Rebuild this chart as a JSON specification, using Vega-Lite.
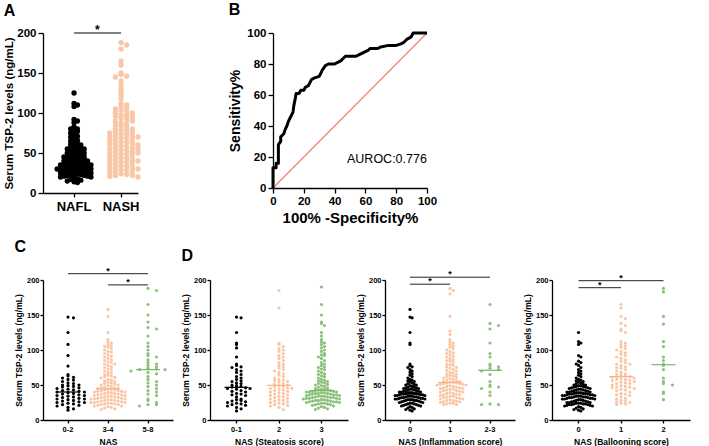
{
"$schema":"https://vega.github.io/schema/vega-lite/v6.json",
"padding":{"left":3,"top":2,"right":2,"bottom":2},
"config":{"font":"Liberation Sans","view":{"stroke":null},
"axis":{"grid":false,"domainColor":"#000","tickColor":"#000","labelColor":"#000","titleColor":"#000","labelFontWeight":"bold","titleFontWeight":"bold","domainWidth":1.3,"tickWidth":1.3,"labelFont":"Liberation Sans","titleFont":"Liberation Sans","labelOverlap":false,"labelFlush":false},
"axisQuantitative":{"labelOverlap":false},
"axisX":{"labelAngle":0},
"title":{"anchor":"start","frame":"bounds","fontWeight":"bold","color":"#000","font":"Liberation Sans"},
"circle":{"opacity":1,"strokeWidth":0},"tick":{"thickness":1.2}},
"datasets":{
"A":[
{"g":"NAFL","v":125},{"g":"NAFL","v":112},{"g":"NAFL","v":110},{"g":"NAFL","v":108},{"g":"NAFL","v":92},{"g":"NAFL","v":90},{"g":"NAFL","v":88},{"g":"NAFL","v":83},{"g":"NAFL","v":80},{"g":"NAFL","v":80},{"g":"NAFL","v":79},{"g":"NAFL","v":77},{"g":"NAFL","v":75},{"g":"NAFL","v":73},{"g":"NAFL","v":71},{"g":"NAFL","v":70},{"g":"NAFL","v":68},{"g":"NAFL","v":66},{"g":"NAFL","v":65},{"g":"NAFL","v":64},{"g":"NAFL","v":62},{"g":"NAFL","v":61},{"g":"NAFL","v":60},{"g":"NAFL","v":59},{"g":"NAFL","v":58},{"g":"NAFL","v":57},{"g":"NAFL","v":56},{"g":"NAFL","v":55},{"g":"NAFL","v":55},{"g":"NAFL","v":54},{"g":"NAFL","v":53},{"g":"NAFL","v":52},{"g":"NAFL","v":51},{"g":"NAFL","v":50},{"g":"NAFL","v":50},{"g":"NAFL","v":49},{"g":"NAFL","v":48},{"g":"NAFL","v":47},{"g":"NAFL","v":47},{"g":"NAFL","v":46},{"g":"NAFL","v":45},{"g":"NAFL","v":45},{"g":"NAFL","v":44},{"g":"NAFL","v":43},{"g":"NAFL","v":43},{"g":"NAFL","v":42},{"g":"NAFL","v":41},{"g":"NAFL","v":41},{"g":"NAFL","v":40},{"g":"NAFL","v":40},{"g":"NAFL","v":39},{"g":"NAFL","v":39},{"g":"NAFL","v":38},{"g":"NAFL","v":38},{"g":"NAFL","v":37},{"g":"NAFL","v":37},{"g":"NAFL","v":36},{"g":"NAFL","v":36},{"g":"NAFL","v":35},{"g":"NAFL","v":35},{"g":"NAFL","v":34},{"g":"NAFL","v":34},{"g":"NAFL","v":33},{"g":"NAFL","v":33},{"g":"NAFL","v":32},{"g":"NAFL","v":32},{"g":"NAFL","v":31},{"g":"NAFL","v":31},{"g":"NAFL","v":30},{"g":"NAFL","v":30},{"g":"NAFL","v":30},{"g":"NAFL","v":29},{"g":"NAFL","v":29},{"g":"NAFL","v":28},{"g":"NAFL","v":28},{"g":"NAFL","v":27},{"g":"NAFL","v":27},{"g":"NAFL","v":26},{"g":"NAFL","v":26},{"g":"NAFL","v":25},{"g":"NAFL","v":25},{"g":"NAFL","v":24},{"g":"NAFL","v":24},{"g":"NAFL","v":23},{"g":"NAFL","v":23},{"g":"NAFL","v":22},{"g":"NAFL","v":22},{"g":"NAFL","v":21},{"g":"NAFL","v":21},{"g":"NAFL","v":20},{"g":"NAFL","v":20},{"g":"NAFL","v":19},{"g":"NAFL","v":18},{"g":"NAFL","v":17},{"g":"NAFL","v":16},{"g":"NAFL","v":15},{"g":"NAFL","v":14},{"g":"NAFL","v":13},
{"g":"NASH","v":188},{"g":"NASH","v":185},{"g":"NASH","v":180},{"g":"NASH","v":165},{"g":"NASH","v":160},{"g":"NASH","v":150},{"g":"NASH","v":148},{"g":"NASH","v":146},{"g":"NASH","v":145},{"g":"NASH","v":140},{"g":"NASH","v":135},{"g":"NASH","v":130},{"g":"NASH","v":125},{"g":"NASH","v":122},{"g":"NASH","v":118},{"g":"NASH","v":112},{"g":"NASH","v":110},{"g":"NASH","v":108},{"g":"NASH","v":106},{"g":"NASH","v":105},{"g":"NASH","v":104},{"g":"NASH","v":102},{"g":"NASH","v":100},{"g":"NASH","v":100},{"g":"NASH","v":98},{"g":"NASH","v":97},{"g":"NASH","v":96},{"g":"NASH","v":95},{"g":"NASH","v":94},{"g":"NASH","v":92},{"g":"NASH","v":90},{"g":"NASH","v":90},{"g":"NASH","v":88},{"g":"NASH","v":86},{"g":"NASH","v":85},{"g":"NASH","v":84},{"g":"NASH","v":82},{"g":"NASH","v":80},{"g":"NASH","v":80},{"g":"NASH","v":79},{"g":"NASH","v":78},{"g":"NASH","v":77},{"g":"NASH","v":76},{"g":"NASH","v":75},{"g":"NASH","v":74},{"g":"NASH","v":73},{"g":"NASH","v":72},{"g":"NASH","v":71},{"g":"NASH","v":70},{"g":"NASH","v":70},{"g":"NASH","v":69},{"g":"NASH","v":68},{"g":"NASH","v":67},{"g":"NASH","v":66},{"g":"NASH","v":65},{"g":"NASH","v":64},{"g":"NASH","v":63},{"g":"NASH","v":62},{"g":"NASH","v":62},{"g":"NASH","v":61},{"g":"NASH","v":60},{"g":"NASH","v":59},{"g":"NASH","v":58},{"g":"NASH","v":57},{"g":"NASH","v":56},{"g":"NASH","v":55},{"g":"NASH","v":55},{"g":"NASH","v":54},{"g":"NASH","v":53},{"g":"NASH","v":52},{"g":"NASH","v":51},{"g":"NASH","v":50},{"g":"NASH","v":50},{"g":"NASH","v":49},{"g":"NASH","v":48},{"g":"NASH","v":47},{"g":"NASH","v":46},{"g":"NASH","v":45},{"g":"NASH","v":44},{"g":"NASH","v":43},{"g":"NASH","v":42},{"g":"NASH","v":41},{"g":"NASH","v":40},{"g":"NASH","v":40},{"g":"NASH","v":39},{"g":"NASH","v":38},{"g":"NASH","v":37},{"g":"NASH","v":36},{"g":"NASH","v":35},{"g":"NASH","v":34},{"g":"NASH","v":33},{"g":"NASH","v":32},{"g":"NASH","v":31},{"g":"NASH","v":30},{"g":"NASH","v":30},{"g":"NASH","v":29},{"g":"NASH","v":28},{"g":"NASH","v":27},{"g":"NASH","v":26},{"g":"NASH","v":25},{"g":"NASH","v":24},{"g":"NASH","v":23},{"g":"NASH","v":22},{"g":"NASH","v":22},{"g":"NASH","v":21},{"g":"NASH","v":20}],
"ROC":[{"fpr":0,"tpr":0},{"fpr":0,"tpr":13},{"fpr":2,"tpr":13},{"fpr":2,"tpr":16},{"fpr":3.5,"tpr":16},{"fpr":3.5,"tpr":28},{"fpr":5,"tpr":30},{"fpr":5,"tpr":33},{"fpr":7,"tpr":35},{"fpr":8,"tpr":38},{"fpr":9,"tpr":40},{"fpr":10,"tpr":43},{"fpr":11,"tpr":45},{"fpr":12,"tpr":47},{"fpr":13,"tpr":49},{"fpr":13.5,"tpr":53},{"fpr":14.5,"tpr":58},{"fpr":15,"tpr":61},{"fpr":17,"tpr":61},{"fpr":18,"tpr":63},{"fpr":20,"tpr":63},{"fpr":21,"tpr":65},{"fpr":23,"tpr":66},{"fpr":24,"tpr":68},{"fpr":25,"tpr":70},{"fpr":27,"tpr":71},{"fpr":30,"tpr":72},{"fpr":31,"tpr":74},{"fpr":32,"tpr":76},{"fpr":34,"tpr":79},{"fpr":36,"tpr":80},{"fpr":40,"tpr":80},{"fpr":42,"tpr":81},{"fpr":44,"tpr":82},{"fpr":46,"tpr":84},{"fpr":47,"tpr":85},{"fpr":54,"tpr":85},{"fpr":56,"tpr":86},{"fpr":58,"tpr":87},{"fpr":60,"tpr":88},{"fpr":62,"tpr":89},{"fpr":63,"tpr":90},{"fpr":68,"tpr":90},{"fpr":70,"tpr":91},{"fpr":75,"tpr":92},{"fpr":80,"tpr":92},{"fpr":83,"tpr":93},{"fpr":85,"tpr":94},{"fpr":87,"tpr":96},{"fpr":89,"tpr":97},{"fpr":90,"tpr":98},{"fpr":91,"tpr":100},{"fpr":100,"tpr":100}],
"C":[
{"g":"0-2","v":147},{"g":"0-2","v":146},{"g":"0-2","v":125},{"g":"0-2","v":108},{"g":"0-2","v":92},{"g":"0-2","v":77},{"g":"0-2","v":65},{"g":"0-2","v":63},{"g":"0-2","v":61},{"g":"0-2","v":60},{"g":"0-2","v":58},{"g":"0-2","v":57},{"g":"0-2","v":55},{"g":"0-2","v":53},{"g":"0-2","v":52},{"g":"0-2","v":50},{"g":"0-2","v":50},{"g":"0-2","v":49},{"g":"0-2","v":48},{"g":"0-2","v":47},{"g":"0-2","v":46},{"g":"0-2","v":45},{"g":"0-2","v":44},{"g":"0-2","v":43},{"g":"0-2","v":42},{"g":"0-2","v":41},{"g":"0-2","v":40},{"g":"0-2","v":40},{"g":"0-2","v":39},{"g":"0-2","v":38},{"g":"0-2","v":37},{"g":"0-2","v":36},{"g":"0-2","v":35},{"g":"0-2","v":35},{"g":"0-2","v":34},{"g":"0-2","v":33},{"g":"0-2","v":32},{"g":"0-2","v":31},{"g":"0-2","v":30},{"g":"0-2","v":30},{"g":"0-2","v":29},{"g":"0-2","v":28},{"g":"0-2","v":27},{"g":"0-2","v":26},{"g":"0-2","v":25},{"g":"0-2","v":25},{"g":"0-2","v":24},{"g":"0-2","v":23},{"g":"0-2","v":22},{"g":"0-2","v":21},{"g":"0-2","v":20},{"g":"0-2","v":18},{"g":"0-2","v":16},{"g":"0-2","v":14},
{"g":"3-4","v":158},{"g":"3-4","v":148},{"g":"3-4","v":125},{"g":"3-4","v":115},{"g":"3-4","v":112},{"g":"3-4","v":110},{"g":"3-4","v":108},{"g":"3-4","v":106},{"g":"3-4","v":105},{"g":"3-4","v":104},{"g":"3-4","v":102},{"g":"3-4","v":100},{"g":"3-4","v":98},{"g":"3-4","v":97},{"g":"3-4","v":95},{"g":"3-4","v":93},{"g":"3-4","v":91},{"g":"3-4","v":90},{"g":"3-4","v":88},{"g":"3-4","v":86},{"g":"3-4","v":85},{"g":"3-4","v":83},{"g":"3-4","v":82},{"g":"3-4","v":80},{"g":"3-4","v":80},{"g":"3-4","v":78},{"g":"3-4","v":76},{"g":"3-4","v":75},{"g":"3-4","v":73},{"g":"3-4","v":72},{"g":"3-4","v":70},{"g":"3-4","v":68},{"g":"3-4","v":67},{"g":"3-4","v":65},{"g":"3-4","v":64},{"g":"3-4","v":63},{"g":"3-4","v":62},{"g":"3-4","v":61},{"g":"3-4","v":60},{"g":"3-4","v":58},{"g":"3-4","v":57},{"g":"3-4","v":56},{"g":"3-4","v":55},{"g":"3-4","v":54},{"g":"3-4","v":53},{"g":"3-4","v":52},{"g":"3-4","v":51},{"g":"3-4","v":50},{"g":"3-4","v":50},{"g":"3-4","v":49},{"g":"3-4","v":48},{"g":"3-4","v":47},{"g":"3-4","v":46},{"g":"3-4","v":46},{"g":"3-4","v":45},{"g":"3-4","v":45},{"g":"3-4","v":44},{"g":"3-4","v":44},{"g":"3-4","v":43},{"g":"3-4","v":43},{"g":"3-4","v":42},{"g":"3-4","v":42},{"g":"3-4","v":41},{"g":"3-4","v":41},{"g":"3-4","v":40},{"g":"3-4","v":40},{"g":"3-4","v":39},{"g":"3-4","v":39},{"g":"3-4","v":38},{"g":"3-4","v":38},{"g":"3-4","v":37},{"g":"3-4","v":37},{"g":"3-4","v":36},{"g":"3-4","v":36},{"g":"3-4","v":35},{"g":"3-4","v":35},{"g":"3-4","v":34},{"g":"3-4","v":34},{"g":"3-4","v":33},{"g":"3-4","v":33},{"g":"3-4","v":32},{"g":"3-4","v":32},{"g":"3-4","v":31},{"g":"3-4","v":31},{"g":"3-4","v":30},{"g":"3-4","v":30},{"g":"3-4","v":30},{"g":"3-4","v":29},{"g":"3-4","v":29},{"g":"3-4","v":28},{"g":"3-4","v":28},{"g":"3-4","v":27},{"g":"3-4","v":27},{"g":"3-4","v":26},{"g":"3-4","v":26},{"g":"3-4","v":25},{"g":"3-4","v":25},{"g":"3-4","v":25},{"g":"3-4","v":24},{"g":"3-4","v":24},{"g":"3-4","v":23},{"g":"3-4","v":23},{"g":"3-4","v":22},{"g":"3-4","v":22},{"g":"3-4","v":21},{"g":"3-4","v":20},{"g":"3-4","v":20},{"g":"3-4","v":19},{"g":"3-4","v":18},{"g":"3-4","v":17},{"g":"3-4","v":16},{"g":"3-4","v":15},
{"g":"5-8","v":188},{"g":"5-8","v":185},{"g":"5-8","v":165},{"g":"5-8","v":150},{"g":"5-8","v":140},{"g":"5-8","v":132},{"g":"5-8","v":130},{"g":"5-8","v":120},{"g":"5-8","v":110},{"g":"5-8","v":105},{"g":"5-8","v":100},{"g":"5-8","v":95},{"g":"5-8","v":92},{"g":"5-8","v":90},{"g":"5-8","v":86},{"g":"5-8","v":82},{"g":"5-8","v":80},{"g":"5-8","v":78},{"g":"5-8","v":76},{"g":"5-8","v":74},{"g":"5-8","v":73},{"g":"5-8","v":72},{"g":"5-8","v":72},{"g":"5-8","v":70},{"g":"5-8","v":68},{"g":"5-8","v":66},{"g":"5-8","v":62},{"g":"5-8","v":58},{"g":"5-8","v":55},{"g":"5-8","v":53},{"g":"5-8","v":50},{"g":"5-8","v":48},{"g":"5-8","v":45},{"g":"5-8","v":42},{"g":"5-8","v":40},{"g":"5-8","v":37},{"g":"5-8","v":35},{"g":"5-8","v":30},{"g":"5-8","v":28},{"g":"5-8","v":25},{"g":"5-8","v":22},{"g":"5-8","v":22},{"g":"5-8","v":20}],
"D1":[
{"g":"0-1","v":147},{"g":"0-1","v":146},{"g":"0-1","v":125},{"g":"0-1","v":110},{"g":"0-1","v":108},{"g":"0-1","v":103},{"g":"0-1","v":90},{"g":"0-1","v":80},{"g":"0-1","v":78},{"g":"0-1","v":76},{"g":"0-1","v":75},{"g":"0-1","v":72},{"g":"0-1","v":70},{"g":"0-1","v":68},{"g":"0-1","v":65},{"g":"0-1","v":62},{"g":"0-1","v":60},{"g":"0-1","v":58},{"g":"0-1","v":56},{"g":"0-1","v":55},{"g":"0-1","v":53},{"g":"0-1","v":52},{"g":"0-1","v":50},{"g":"0-1","v":49},{"g":"0-1","v":48},{"g":"0-1","v":47},{"g":"0-1","v":46},{"g":"0-1","v":45},{"g":"0-1","v":45},{"g":"0-1","v":44},{"g":"0-1","v":42},{"g":"0-1","v":41},{"g":"0-1","v":40},{"g":"0-1","v":38},{"g":"0-1","v":37},{"g":"0-1","v":36},{"g":"0-1","v":35},{"g":"0-1","v":33},{"g":"0-1","v":30},{"g":"0-1","v":29},{"g":"0-1","v":28},{"g":"0-1","v":27},{"g":"0-1","v":26},{"g":"0-1","v":25},{"g":"0-1","v":24},{"g":"0-1","v":23},{"g":"0-1","v":22},{"g":"0-1","v":21},{"g":"0-1","v":20},{"g":"0-1","v":18},{"g":"0-1","v":16},{"g":"0-1","v":13},
{"g":"2","v":185},{"g":"2","v":160},{"g":"2","v":110},{"g":"2","v":108},{"g":"2","v":105},{"g":"2","v":102},{"g":"2","v":100},{"g":"2","v":98},{"g":"2","v":95},{"g":"2","v":92},{"g":"2","v":90},{"g":"2","v":88},{"g":"2","v":85},{"g":"2","v":82},{"g":"2","v":80},{"g":"2","v":78},{"g":"2","v":76},{"g":"2","v":74},{"g":"2","v":72},{"g":"2","v":70},{"g":"2","v":68},{"g":"2","v":66},{"g":"2","v":64},{"g":"2","v":62},{"g":"2","v":60},{"g":"2","v":58},{"g":"2","v":57},{"g":"2","v":56},{"g":"2","v":55},{"g":"2","v":54},{"g":"2","v":52},{"g":"2","v":51},{"g":"2","v":50},{"g":"2","v":49},{"g":"2","v":48},{"g":"2","v":47},{"g":"2","v":46},{"g":"2","v":45},{"g":"2","v":45},{"g":"2","v":44},{"g":"2","v":43},{"g":"2","v":42},{"g":"2","v":41},{"g":"2","v":40},{"g":"2","v":39},{"g":"2","v":38},{"g":"2","v":37},{"g":"2","v":36},{"g":"2","v":35},{"g":"2","v":34},{"g":"2","v":33},{"g":"2","v":32},{"g":"2","v":31},{"g":"2","v":30},{"g":"2","v":29},{"g":"2","v":28},{"g":"2","v":27},{"g":"2","v":26},{"g":"2","v":25},{"g":"2","v":24},{"g":"2","v":23},{"g":"2","v":22},{"g":"2","v":21},{"g":"2","v":20},{"g":"2","v":18},{"g":"2","v":15},
{"g":"3","v":190},{"g":"3","v":165},{"g":"3","v":150},{"g":"3","v":140},{"g":"3","v":138},{"g":"3","v":135},{"g":"3","v":125},{"g":"3","v":120},{"g":"3","v":115},{"g":"3","v":112},{"g":"3","v":110},{"g":"3","v":108},{"g":"3","v":105},{"g":"3","v":103},{"g":"3","v":100},{"g":"3","v":98},{"g":"3","v":95},{"g":"3","v":93},{"g":"3","v":92},{"g":"3","v":90},{"g":"3","v":88},{"g":"3","v":85},{"g":"3","v":82},{"g":"3","v":80},{"g":"3","v":78},{"g":"3","v":76},{"g":"3","v":75},{"g":"3","v":73},{"g":"3","v":72},{"g":"3","v":70},{"g":"3","v":68},{"g":"3","v":66},{"g":"3","v":65},{"g":"3","v":63},{"g":"3","v":62},{"g":"3","v":60},{"g":"3","v":58},{"g":"3","v":57},{"g":"3","v":56},{"g":"3","v":55},{"g":"3","v":54},{"g":"3","v":53},{"g":"3","v":52},{"g":"3","v":51},{"g":"3","v":50},{"g":"3","v":49},{"g":"3","v":48},{"g":"3","v":47},{"g":"3","v":46},{"g":"3","v":45},{"g":"3","v":44},{"g":"3","v":44},{"g":"3","v":43},{"g":"3","v":43},{"g":"3","v":42},{"g":"3","v":42},{"g":"3","v":41},{"g":"3","v":41},{"g":"3","v":40},{"g":"3","v":40},{"g":"3","v":40},{"g":"3","v":39},{"g":"3","v":39},{"g":"3","v":38},{"g":"3","v":38},{"g":"3","v":38},{"g":"3","v":37},{"g":"3","v":37},{"g":"3","v":36},{"g":"3","v":36},{"g":"3","v":36},{"g":"3","v":35},{"g":"3","v":35},{"g":"3","v":34},{"g":"3","v":34},{"g":"3","v":34},{"g":"3","v":33},{"g":"3","v":33},{"g":"3","v":32},{"g":"3","v":32},{"g":"3","v":32},{"g":"3","v":31},{"g":"3","v":31},{"g":"3","v":31},{"g":"3","v":30},{"g":"3","v":30},{"g":"3","v":29},{"g":"3","v":29},{"g":"3","v":28},{"g":"3","v":28},{"g":"3","v":28},{"g":"3","v":27},{"g":"3","v":27},{"g":"3","v":26},{"g":"3","v":26},{"g":"3","v":26},{"g":"3","v":25},{"g":"3","v":25},{"g":"3","v":24},{"g":"3","v":24},{"g":"3","v":23},{"g":"3","v":23},{"g":"3","v":22},{"g":"3","v":22},{"g":"3","v":21},{"g":"3","v":20},{"g":"3","v":19},{"g":"3","v":18},{"g":"3","v":17},{"g":"3","v":16},{"g":"3","v":15}],
"D2":[
{"g":"0","v":158},{"g":"0","v":147},{"g":"0","v":146},{"g":"0","v":125},{"g":"0","v":110},{"g":"0","v":108},{"g":"0","v":80},{"g":"0","v":78},{"g":"0","v":76},{"g":"0","v":75},{"g":"0","v":72},{"g":"0","v":70},{"g":"0","v":68},{"g":"0","v":66},{"g":"0","v":64},{"g":"0","v":62},{"g":"0","v":60},{"g":"0","v":58},{"g":"0","v":57},{"g":"0","v":56},{"g":"0","v":55},{"g":"0","v":54},{"g":"0","v":53},{"g":"0","v":52},{"g":"0","v":51},{"g":"0","v":50},{"g":"0","v":50},{"g":"0","v":49},{"g":"0","v":48},{"g":"0","v":47},{"g":"0","v":47},{"g":"0","v":46},{"g":"0","v":46},{"g":"0","v":45},{"g":"0","v":45},{"g":"0","v":44},{"g":"0","v":44},{"g":"0","v":43},{"g":"0","v":43},{"g":"0","v":42},{"g":"0","v":42},{"g":"0","v":41},{"g":"0","v":41},{"g":"0","v":40},{"g":"0","v":40},{"g":"0","v":40},{"g":"0","v":39},{"g":"0","v":39},{"g":"0","v":39},{"g":"0","v":38},{"g":"0","v":38},{"g":"0","v":38},{"g":"0","v":37},{"g":"0","v":37},{"g":"0","v":37},{"g":"0","v":36},{"g":"0","v":36},{"g":"0","v":36},{"g":"0","v":35},{"g":"0","v":35},{"g":"0","v":35},{"g":"0","v":34},{"g":"0","v":34},{"g":"0","v":34},{"g":"0","v":33},{"g":"0","v":33},{"g":"0","v":33},{"g":"0","v":32},{"g":"0","v":32},{"g":"0","v":32},{"g":"0","v":31},{"g":"0","v":31},{"g":"0","v":31},{"g":"0","v":30},{"g":"0","v":30},{"g":"0","v":30},{"g":"0","v":29},{"g":"0","v":29},{"g":"0","v":29},{"g":"0","v":28},{"g":"0","v":28},{"g":"0","v":28},{"g":"0","v":27},{"g":"0","v":27},{"g":"0","v":26},{"g":"0","v":26},{"g":"0","v":25},{"g":"0","v":25},{"g":"0","v":24},{"g":"0","v":24},{"g":"0","v":23},{"g":"0","v":23},{"g":"0","v":22},{"g":"0","v":22},{"g":"0","v":21},{"g":"0","v":21},{"g":"0","v":20},{"g":"0","v":20},{"g":"0","v":19},{"g":"0","v":18},{"g":"0","v":17},{"g":"0","v":16},{"g":"0","v":15},{"g":"0","v":14},{"g":"0","v":13},
{"g":"1","v":188},{"g":"1","v":185},{"g":"1","v":180},{"g":"1","v":148},{"g":"1","v":127},{"g":"1","v":122},{"g":"1","v":115},{"g":"1","v":112},{"g":"1","v":110},{"g":"1","v":108},{"g":"1","v":106},{"g":"1","v":104},{"g":"1","v":102},{"g":"1","v":100},{"g":"1","v":98},{"g":"1","v":96},{"g":"1","v":95},{"g":"1","v":93},{"g":"1","v":91},{"g":"1","v":90},{"g":"1","v":88},{"g":"1","v":86},{"g":"1","v":85},{"g":"1","v":84},{"g":"1","v":82},{"g":"1","v":80},{"g":"1","v":79},{"g":"1","v":78},{"g":"1","v":76},{"g":"1","v":75},{"g":"1","v":74},{"g":"1","v":72},{"g":"1","v":71},{"g":"1","v":70},{"g":"1","v":68},{"g":"1","v":67},{"g":"1","v":66},{"g":"1","v":65},{"g":"1","v":64},{"g":"1","v":63},{"g":"1","v":62},{"g":"1","v":61},{"g":"1","v":60},{"g":"1","v":59},{"g":"1","v":58},{"g":"1","v":57},{"g":"1","v":56},{"g":"1","v":55},{"g":"1","v":55},{"g":"1","v":54},{"g":"1","v":54},{"g":"1","v":53},{"g":"1","v":53},{"g":"1","v":52},{"g":"1","v":52},{"g":"1","v":51},{"g":"1","v":51},{"g":"1","v":50},{"g":"1","v":50},{"g":"1","v":49},{"g":"1","v":48},{"g":"1","v":48},{"g":"1","v":47},{"g":"1","v":46},{"g":"1","v":46},{"g":"1","v":45},{"g":"1","v":45},{"g":"1","v":44},{"g":"1","v":44},{"g":"1","v":43},{"g":"1","v":42},{"g":"1","v":42},{"g":"1","v":41},{"g":"1","v":40},{"g":"1","v":40},{"g":"1","v":39},{"g":"1","v":38},{"g":"1","v":38},{"g":"1","v":37},{"g":"1","v":36},{"g":"1","v":36},{"g":"1","v":35},{"g":"1","v":34},{"g":"1","v":34},{"g":"1","v":33},{"g":"1","v":32},{"g":"1","v":32},{"g":"1","v":31},{"g":"1","v":30},{"g":"1","v":30},{"g":"1","v":29},{"g":"1","v":28},{"g":"1","v":28},{"g":"1","v":27},{"g":"1","v":26},{"g":"1","v":26},{"g":"1","v":25},{"g":"1","v":24},{"g":"1","v":24},{"g":"1","v":23},{"g":"1","v":22},{"g":"1","v":22},
{"g":"2-3","v":165},{"g":"2-3","v":138},{"g":"2-3","v":135},{"g":"2-3","v":130},{"g":"2-3","v":110},{"g":"2-3","v":95},{"g":"2-3","v":90},{"g":"2-3","v":80},{"g":"2-3","v":78},{"g":"2-3","v":76},{"g":"2-3","v":74},{"g":"2-3","v":72},{"g":"2-3","v":70},{"g":"2-3","v":65},{"g":"2-3","v":55},{"g":"2-3","v":50},{"g":"2-3","v":48},{"g":"2-3","v":47},{"g":"2-3","v":45},{"g":"2-3","v":40},{"g":"2-3","v":35},{"g":"2-3","v":23},{"g":"2-3","v":22},{"g":"2-3","v":22}],
"D3":[
{"g":"0","v":125},{"g":"0","v":112},{"g":"0","v":110},{"g":"0","v":108},{"g":"0","v":92},{"g":"0","v":90},{"g":"0","v":84},{"g":"0","v":82},{"g":"0","v":80},{"g":"0","v":78},{"g":"0","v":75},{"g":"0","v":72},{"g":"0","v":70},{"g":"0","v":68},{"g":"0","v":66},{"g":"0","v":64},{"g":"0","v":62},{"g":"0","v":60},{"g":"0","v":58},{"g":"0","v":57},{"g":"0","v":56},{"g":"0","v":55},{"g":"0","v":54},{"g":"0","v":53},{"g":"0","v":52},{"g":"0","v":51},{"g":"0","v":50},{"g":"0","v":50},{"g":"0","v":49},{"g":"0","v":49},{"g":"0","v":48},{"g":"0","v":48},{"g":"0","v":47},{"g":"0","v":47},{"g":"0","v":46},{"g":"0","v":46},{"g":"0","v":45},{"g":"0","v":45},{"g":"0","v":44},{"g":"0","v":44},{"g":"0","v":43},{"g":"0","v":43},{"g":"0","v":42},{"g":"0","v":42},{"g":"0","v":41},{"g":"0","v":41},{"g":"0","v":40},{"g":"0","v":40},{"g":"0","v":40},{"g":"0","v":39},{"g":"0","v":39},{"g":"0","v":39},{"g":"0","v":38},{"g":"0","v":38},{"g":"0","v":38},{"g":"0","v":37},{"g":"0","v":37},{"g":"0","v":37},{"g":"0","v":36},{"g":"0","v":36},{"g":"0","v":36},{"g":"0","v":35},{"g":"0","v":35},{"g":"0","v":35},{"g":"0","v":34},{"g":"0","v":34},{"g":"0","v":34},{"g":"0","v":33},{"g":"0","v":33},{"g":"0","v":33},{"g":"0","v":32},{"g":"0","v":32},{"g":"0","v":32},{"g":"0","v":31},{"g":"0","v":31},{"g":"0","v":31},{"g":"0","v":30},{"g":"0","v":30},{"g":"0","v":30},{"g":"0","v":29},{"g":"0","v":29},{"g":"0","v":28},{"g":"0","v":28},{"g":"0","v":27},{"g":"0","v":27},{"g":"0","v":26},{"g":"0","v":26},{"g":"0","v":25},{"g":"0","v":25},{"g":"0","v":25},{"g":"0","v":24},{"g":"0","v":24},{"g":"0","v":24},{"g":"0","v":23},{"g":"0","v":23},{"g":"0","v":23},{"g":"0","v":22},{"g":"0","v":22},{"g":"0","v":22},{"g":"0","v":21},{"g":"0","v":21},{"g":"0","v":20},{"g":"0","v":20},{"g":"0","v":19},{"g":"0","v":18},{"g":"0","v":17},{"g":"0","v":16},{"g":"0","v":15},{"g":"0","v":14},{"g":"0","v":13},
{"g":"1","v":165},{"g":"1","v":160},{"g":"1","v":148},{"g":"1","v":145},{"g":"1","v":138},{"g":"1","v":135},{"g":"1","v":130},{"g":"1","v":128},{"g":"1","v":125},{"g":"1","v":112},{"g":"1","v":110},{"g":"1","v":108},{"g":"1","v":106},{"g":"1","v":104},{"g":"1","v":102},{"g":"1","v":100},{"g":"1","v":98},{"g":"1","v":96},{"g":"1","v":94},{"g":"1","v":92},{"g":"1","v":90},{"g":"1","v":88},{"g":"1","v":86},{"g":"1","v":84},{"g":"1","v":82},{"g":"1","v":80},{"g":"1","v":80},{"g":"1","v":78},{"g":"1","v":76},{"g":"1","v":75},{"g":"1","v":74},{"g":"1","v":72},{"g":"1","v":70},{"g":"1","v":68},{"g":"1","v":66},{"g":"1","v":65},{"g":"1","v":64},{"g":"1","v":63},{"g":"1","v":62},{"g":"1","v":62},{"g":"1","v":61},{"g":"1","v":60},{"g":"1","v":59},{"g":"1","v":58},{"g":"1","v":58},{"g":"1","v":57},{"g":"1","v":56},{"g":"1","v":55},{"g":"1","v":54},{"g":"1","v":53},{"g":"1","v":52},{"g":"1","v":52},{"g":"1","v":50},{"g":"1","v":49},{"g":"1","v":48},{"g":"1","v":47},{"g":"1","v":47},{"g":"1","v":46},{"g":"1","v":45},{"g":"1","v":44},{"g":"1","v":43},{"g":"1","v":42},{"g":"1","v":40},{"g":"1","v":38},{"g":"1","v":37},{"g":"1","v":36},{"g":"1","v":35},{"g":"1","v":33},{"g":"1","v":31},{"g":"1","v":30},{"g":"1","v":28},{"g":"1","v":27},{"g":"1","v":26},{"g":"1","v":25},{"g":"1","v":24},{"g":"1","v":23},{"g":"1","v":22},
{"g":"2","v":188},{"g":"2","v":183},{"g":"2","v":148},{"g":"2","v":137},{"g":"2","v":112},{"g":"2","v":105},{"g":"2","v":90},{"g":"2","v":85},{"g":"2","v":80},{"g":"2","v":78},{"g":"2","v":72},{"g":"2","v":60},{"g":"2","v":55},{"g":"2","v":52},{"g":"2","v":50},{"g":"2","v":40},{"g":"2","v":38},{"g":"2","v":29}]
},
"spacing":12,
"vconcat":[
{"spacing":87,"hconcat":[
{"width":95,"height":160,"title":{"text":"A","fontSize":16,"offset":5},"data":{"name":"A"},
"layer":[
{"encoding":{"x":{"field":"g","type":"nominal","scale":{"domain":["NAFL","NASH"],"paddingInner":0.28,"paddingOuter":0.15,"align":1},"axis":{"title":null,"labelFontSize":13,"tickSize":4,"labelPadding":3}},
"y":{"field":"v","type":"quantitative","scale":{"domain":[0,200],"nice":false},"axis":{"tickCount":5,"title":"Serum TSP-2 levels (ng/mL)","labelFontSize":11.5,"titleFontSize":11.5,"tickSize":5,"titlePadding":2,"labelOverlap":false}}},
"layer":[
{"transform":[{"filter":{"field":"g","equal":"NAFL"}},{"bin":{"step":5,"extent":[0,210],"nice":false},"field":"v","as":"b"},{"window":[{"op":"row_number","as":"r"}],"groupby":["b"]}],
"mark":{"type":"circle","size":28,"color":"#000000"},
"encoding":{"xOffset":{"field":"r","type":"ordinal","scale":{"domain":[11,9,7,5,3,1,2,4,6,8,10],"paddingInner":0,"paddingOuter":0}}}},
{"transform":[{"filter":{"field":"g","equal":"NASH"}},{"bin":{"step":5,"extent":[0,210],"nice":false},"field":"v","as":"b"},{"window":[{"op":"row_number","as":"r"}],"groupby":["b"]}],
"mark":{"type":"circle","size":28,"color":"#F9C6A6"},
"encoding":{"xOffset":{"field":"r","type":"ordinal","scale":{"domain":[7,5,3,1,2,4,6],"paddingInner":0,"paddingOuter":0}}}}
],
"resolve":{"scale":{"xOffset":"independent"}}},
{"data":{"values":[{}]},"mark":{"type":"rule","color":"#000","strokeWidth":1.2},"encoding":{"x":{"datum":"NAFL","bandPosition":0.5},"x2":{"datum":"NASH","bandPosition":0.5},"y":{"datum":200}}},
{"data":{"values":[{}]},"mark":{"type":"text","text":"*","fontSize":12,"fontWeight":"bold","baseline":"alphabetic"},"encoding":{"x":{"datum":"NAFL","bandPosition":1.19},"y":{"datum":199}}}
]},
{"width":154,"height":155,"title":{"text":"B","fontSize":16,"offset":9},"data":{"name":"ROC"},
"layer":[
{"data":{"values":[{}]},"mark":{"type":"rule","color":"#F0836A","strokeWidth":1.2},"encoding":{"x":{"datum":0},"x2":{"datum":100},"y":{"datum":0},"y2":{"datum":100}}},
{"mark":{"type":"line","color":"#000","strokeWidth":3,"strokeJoin":"round"},
"encoding":{"x":{"field":"fpr","type":"quantitative","scale":{"domain":[0,100],"nice":false},"axis":{"tickCount":6,"title":"100% -Specificity%","titleFontSize":15,"labelFontSize":11.5,"tickSize":5,"labelOverlap":false}},
"y":{"field":"tpr","type":"quantitative","scale":{"domain":[0,100],"nice":false},"axis":{"tickCount":6,"title":"Sensitivity%","titleFontSize":14,"labelFontSize":11.5,"tickSize":5,"labelOverlap":false}},
"order":[{"field":"fpr"},{"field":"tpr"}]}},
{"data":{"values":[{}]},"mark":{"type":"text","text":"AUROC:0.776","fontSize":12.5},"encoding":{"x":{"datum":74},"y":{"datum":19}}}
]}
]},
{"spacing":8,"hconcat":[
{"width":130,"height":140,"title":{"text":"C","fontSize":16,"offset":12},"data":{"name":"C"},
"layer":[
{"encoding":{"x":{"field":"g","type":"nominal","scale":{"domain":["0-2","3-4","5-8"],"paddingInner":0.15,"paddingOuter":0.2},"axis":{"title":"NAS","labelFontSize":7.5,"titleFontSize":8.5,"tickSize":3,"titlePadding":5}},
"y":{"field":"v","type":"quantitative","scale":{"domain":[0,200],"nice":false},"axis":{"tickCount":5,"title":"Serum TSP-2 levels (ng/mL)","labelFontSize":7.5,"titleFontSize":8.5,"tickSize":3,"labelPadding":1,"titlePadding":3,"labelOverlap":false}}},
"layer":[
{"transform":[{"filter":{"field":"g","equal":"0-2"}}],"layer":[
{"transform":[{"bin":{"step":5,"extent":[0,210],"nice":false},"field":"v","as":"b"},{"window":[{"op":"row_number","as":"r"}],"groupby":["b"]}],"mark":{"type":"circle","size":10,"color":"#000000"},"encoding":{"xOffset":{"field":"r","type":"ordinal","scale":{"domain":[7,5,3,1,2,4,6],"paddingInner":0,"paddingOuter":0.1}}}},
{"mark":{"type":"tick","color":"#000000","size":24},"encoding":{"y":{"aggregate":"median","field":"v","type":"quantitative","title":"Serum TSP-2 levels (ng/mL)","axis":{"tickCount":5,"labelOverlap":false}}}}]},
{"transform":[{"filter":{"field":"g","equal":"3-4"}}],"layer":[
{"transform":[{"bin":{"step":5,"extent":[0,210],"nice":false},"field":"v","as":"b"},{"window":[{"op":"row_number","as":"r"}],"groupby":["b"]}],"mark":{"type":"circle","size":10,"color":"#F9C6A6"},"encoding":{"xOffset":{"field":"r","type":"ordinal","scale":{"domain":[11,9,7,5,3,1,2,4,6,8,10],"paddingInner":0,"paddingOuter":0}}}},
{"mark":{"type":"tick","color":"#F6B48E","size":24},"encoding":{"y":{"aggregate":"median","field":"v","type":"quantitative","title":"Serum TSP-2 levels (ng/mL)","axis":{"tickCount":5,"labelOverlap":false}}}}]},
{"transform":[{"filter":{"field":"g","equal":"5-8"}}],"layer":[
{"transform":[{"bin":{"step":5,"extent":[0,210],"nice":false},"field":"v","as":"b"},{"window":[{"op":"row_number","as":"r"}],"groupby":["b"]}],"mark":{"type":"circle","size":10,"color":"#8CC17A"},"encoding":{"xOffset":{"field":"r","type":"ordinal","scale":{"domain":[5,3,1,2,4],"paddingInner":0,"paddingOuter":0}}}},
{"mark":{"type":"tick","color":"#7DB86A","size":24},"encoding":{"y":{"aggregate":"median","field":"v","type":"quantitative","title":"Serum TSP-2 levels (ng/mL)","axis":{"tickCount":5,"labelOverlap":false}}}}]}
],
"resolve":{"scale":{"xOffset":"independent"}}},
{"data":{"values":[{}]},"mark":{"type":"rule","color":"#222","strokeWidth":1},"encoding":{"x":{"datum":"0-2","bandPosition":0.5},"x2":{"datum":"5-8","bandPosition":0.5},"y":{"datum":209}}},
{"data":{"values":[{}]},"mark":{"type":"text","text":"*","fontSize":9,"fontWeight":"bold","baseline":"alphabetic"},"encoding":{"x":{"datum":"3-4","bandPosition":0.5},"y":{"datum":209}}},
{"data":{"values":[{}]},"mark":{"type":"rule","color":"#222","strokeWidth":1},"encoding":{"x":{"datum":"3-4","bandPosition":0.5},"x2":{"datum":"5-8","bandPosition":0.5},"y":{"datum":193}}},
{"data":{"values":[{}]},"mark":{"type":"text","text":"*","fontSize":9,"fontWeight":"bold","baseline":"alphabetic"},"encoding":{"x":{"datum":"3-4","bandPosition":1.09},"y":{"datum":193}}}
]},
{"width":138,"height":140,"title":{"text":"D","fontSize":16,"offset":12},"data":{"name":"D1"},
"encoding":{"x":{"field":"g","type":"nominal","scale":{"domain":["0-1","2","3"],"paddingInner":0.15,"paddingOuter":0.2},"axis":{"title":"NAS (Steatosis score)","labelFontSize":7.5,"titleFontSize":8.5,"tickSize":3,"titlePadding":5}},
"y":{"field":"v","type":"quantitative","scale":{"domain":[0,200],"nice":false},"axis":{"tickCount":5,"title":"Serum TSP-2 levels (ng/mL)","labelFontSize":7.5,"titleFontSize":8.5,"tickSize":3,"labelPadding":1,"titlePadding":3,"labelOverlap":false}}},
"layer":[
{"transform":[{"filter":{"field":"g","equal":"0-1"}}],"layer":[
{"transform":[{"bin":{"step":5,"extent":[0,210],"nice":false},"field":"v","as":"b"},{"window":[{"op":"row_number","as":"r"}],"groupby":["b"]}],"mark":{"type":"circle","size":10,"color":"#000000"},"encoding":{"xOffset":{"field":"r","type":"ordinal","scale":{"domain":[7,5,3,1,2,4,6],"paddingInner":0,"paddingOuter":1}}}},
{"mark":{"type":"tick","color":"#000000","size":24},"encoding":{"y":{"aggregate":"median","field":"v","type":"quantitative","title":"Serum TSP-2 levels (ng/mL)","axis":{"tickCount":5,"labelOverlap":false}}}}]},
{"transform":[{"filter":{"field":"g","equal":"2"}}],"layer":[
{"transform":[{"bin":{"step":5,"extent":[0,210],"nice":false},"field":"v","as":"b"},{"window":[{"op":"row_number","as":"r"}],"groupby":["b"]}],"mark":{"type":"circle","size":10,"color":"#F9C6A6"},"encoding":{"xOffset":{"field":"r","type":"ordinal","scale":{"domain":[9,7,5,3,1,2,4,6,8],"paddingInner":0,"paddingOuter":0.2}}}},
{"mark":{"type":"tick","color":"#F6B48E","size":24},"encoding":{"y":{"aggregate":"median","field":"v","type":"quantitative","title":"Serum TSP-2 levels (ng/mL)","axis":{"tickCount":5,"labelOverlap":false}}}}]},
{"transform":[{"filter":{"field":"g","equal":"3"}}],"layer":[
{"transform":[{"bin":{"step":5,"extent":[0,210],"nice":false},"field":"v","as":"b"},{"window":[{"op":"row_number","as":"r"}],"groupby":["b"]}],"mark":{"type":"circle","size":10,"color":"#8CC17A"},"encoding":{"xOffset":{"field":"r","type":"ordinal","scale":{"domain":[13,11,9,7,5,3,1,2,4,6,8,10,12],"paddingInner":0,"paddingOuter":0}}}},
{"mark":{"type":"tick","color":"#7DB86A","size":24},"encoding":{"y":{"aggregate":"median","field":"v","type":"quantitative","title":"Serum TSP-2 levels (ng/mL)","axis":{"tickCount":5,"labelOverlap":false}}}}]}
],
"resolve":{"scale":{"xOffset":"independent"}}},
{"width":130,"height":140,"data":{"name":"D2"},
"layer":[
{"encoding":{"x":{"field":"g","type":"nominal","scale":{"domain":["0","1","2-3"],"paddingInner":0.15,"paddingOuter":0.2},"axis":{"title":"NAS (Inflammation score)","labelFontSize":7.5,"titleFontSize":8.5,"tickSize":3,"titlePadding":5}},
"y":{"field":"v","type":"quantitative","scale":{"domain":[0,200],"nice":false},"axis":{"tickCount":5,"title":"Serum TSP-2 levels (ng/mL)","labelFontSize":7.5,"titleFontSize":8.5,"tickSize":3,"labelPadding":1,"titlePadding":3,"labelOverlap":false}}},
"layer":[
{"transform":[{"filter":{"field":"g","equal":"0"}}],"layer":[
{"transform":[{"bin":{"step":5,"extent":[0,210],"nice":false},"field":"v","as":"b"},{"window":[{"op":"row_number","as":"r"}],"groupby":["b"]}],"mark":{"type":"circle","size":10,"color":"#000000"},"encoding":{"xOffset":{"field":"r","type":"ordinal","scale":{"domain":[15,13,11,9,7,5,3,1,2,4,6,8,10,12,14],"paddingInner":0,"paddingOuter":1.5}}}},
{"mark":{"type":"tick","color":"#000000","size":24},"encoding":{"y":{"aggregate":"median","field":"v","type":"quantitative","title":"Serum TSP-2 levels (ng/mL)","axis":{"tickCount":5,"labelOverlap":false}}}}]},
{"transform":[{"filter":{"field":"g","equal":"1"}}],"layer":[
{"transform":[{"bin":{"step":5,"extent":[0,210],"nice":false},"field":"v","as":"b"},{"window":[{"op":"row_number","as":"r"}],"groupby":["b"]}],"mark":{"type":"circle","size":10,"color":"#F9C6A6"},"encoding":{"xOffset":{"field":"r","type":"ordinal","scale":{"domain":[11,9,7,5,3,1,2,4,6,8,10],"paddingInner":0,"paddingOuter":0.3}}}},
{"mark":{"type":"tick","color":"#F6B48E","size":24},"encoding":{"y":{"aggregate":"median","field":"v","type":"quantitative","title":"Serum TSP-2 levels (ng/mL)","axis":{"tickCount":5,"labelOverlap":false}}}}]},
{"transform":[{"filter":{"field":"g","equal":"2-3"}}],"layer":[
{"transform":[{"bin":{"step":5,"extent":[0,210],"nice":false},"field":"v","as":"b"},{"window":[{"op":"row_number","as":"r"}],"groupby":["b"]}],"mark":{"type":"circle","size":10,"color":"#8CC17A"},"encoding":{"xOffset":{"field":"r","type":"ordinal","scale":{"domain":[5,3,1,2,4],"paddingInner":0,"paddingOuter":0}}}},
{"mark":{"type":"tick","color":"#7DB86A","size":24},"encoding":{"y":{"aggregate":"median","field":"v","type":"quantitative","title":"Serum TSP-2 levels (ng/mL)","axis":{"tickCount":5,"labelOverlap":false}}}}]}
],
"resolve":{"scale":{"xOffset":"independent"}}},
{"data":{"values":[{}]},"mark":{"type":"rule","color":"#222","strokeWidth":1},"encoding":{"x":{"datum":"0","bandPosition":0.5},"x2":{"datum":"2-3","bandPosition":0.5},"y":{"datum":204}}},
{"data":{"values":[{}]},"mark":{"type":"text","text":"*","fontSize":9,"fontWeight":"bold","baseline":"alphabetic"},"encoding":{"x":{"datum":"1","bandPosition":0.5},"y":{"datum":204}}},
{"data":{"values":[{}]},"mark":{"type":"rule","color":"#222","strokeWidth":1},"encoding":{"x":{"datum":"0","bandPosition":0.5},"x2":{"datum":"1","bandPosition":0.5},"y":{"datum":194}}},
{"data":{"values":[{}]},"mark":{"type":"text","text":"*","fontSize":9,"fontWeight":"bold","baseline":"alphabetic"},"encoding":{"x":{"datum":"0","bandPosition":1.09},"y":{"datum":194}}}
]},
{"width":138,"height":140,"data":{"name":"D3"},
"layer":[
{"encoding":{"x":{"field":"g","type":"nominal","scale":{"domain":["0","1","2"],"paddingInner":0.15,"paddingOuter":0.2},"axis":{"title":"NAS (Ballooning score)","labelFontSize":7.5,"titleFontSize":8.5,"tickSize":3,"titlePadding":5}},
"y":{"field":"v","type":"quantitative","scale":{"domain":[0,200],"nice":false},"axis":{"tickCount":5,"title":"Serum TSP-2 levels (ng/mL)","labelFontSize":7.5,"titleFontSize":8.5,"tickSize":3,"labelPadding":1,"titlePadding":3,"labelOverlap":false}}},
"layer":[
{"transform":[{"filter":{"field":"g","equal":"0"}}],"layer":[
{"transform":[{"bin":{"step":5,"extent":[0,210],"nice":false},"field":"v","as":"b"},{"window":[{"op":"row_number","as":"r"}],"groupby":["b"]}],"mark":{"type":"circle","size":10,"color":"#000000"},"encoding":{"xOffset":{"field":"r","type":"ordinal","scale":{"domain":[15,13,11,9,7,5,3,1,2,4,6,8,10,12,14],"paddingInner":0,"paddingOuter":0.8}}}},
{"mark":{"type":"tick","color":"#000000","size":24},"encoding":{"y":{"aggregate":"median","field":"v","type":"quantitative","title":"Serum TSP-2 levels (ng/mL)","axis":{"tickCount":5,"labelOverlap":false}}}}]},
{"transform":[{"filter":{"field":"g","equal":"1"}}],"layer":[
{"transform":[{"bin":{"step":5,"extent":[0,210],"nice":false},"field":"v","as":"b"},{"window":[{"op":"row_number","as":"r"}],"groupby":["b"]}],"mark":{"type":"circle","size":10,"color":"#F9C6A6"},"encoding":{"xOffset":{"field":"r","type":"ordinal","scale":{"domain":[9,7,5,3,1,2,4,6,8],"paddingInner":0,"paddingOuter":0.1}}}},
{"mark":{"type":"tick","color":"#F6B48E","size":24},"encoding":{"y":{"aggregate":"median","field":"v","type":"quantitative","title":"Serum TSP-2 levels (ng/mL)","axis":{"tickCount":5,"labelOverlap":false}}}}]},
{"transform":[{"filter":{"field":"g","equal":"2"}}],"layer":[
{"transform":[{"bin":{"step":5,"extent":[0,210],"nice":false},"field":"v","as":"b"},{"window":[{"op":"row_number","as":"r"}],"groupby":["b"]}],"mark":{"type":"circle","size":10,"color":"#8CC17A"},"encoding":{"xOffset":{"field":"r","type":"ordinal","scale":{"domain":[5,3,1,2,4],"paddingInner":0,"paddingOuter":0}}}},
{"mark":{"type":"tick","color":"#7DB86A","size":24},"encoding":{"y":{"aggregate":"median","field":"v","type":"quantitative","title":"Serum TSP-2 levels (ng/mL)","axis":{"tickCount":5,"labelOverlap":false}}}}]}
],
"resolve":{"scale":{"xOffset":"independent"}}},
{"data":{"values":[{}]},"mark":{"type":"rule","color":"#222","strokeWidth":1},"encoding":{"x":{"datum":"0","bandPosition":0.5},"x2":{"datum":"2","bandPosition":0.5},"y":{"datum":199}}},
{"data":{"values":[{}]},"mark":{"type":"text","text":"*","fontSize":9,"fontWeight":"bold","baseline":"alphabetic"},"encoding":{"x":{"datum":"1","bandPosition":0.5},"y":{"datum":199}}},
{"data":{"values":[{}]},"mark":{"type":"rule","color":"#222","strokeWidth":1},"encoding":{"x":{"datum":"0","bandPosition":0.5},"x2":{"datum":"1","bandPosition":0.5},"y":{"datum":189}}},
{"data":{"values":[{}]},"mark":{"type":"text","text":"*","fontSize":9,"fontWeight":"bold","baseline":"alphabetic"},"encoding":{"x":{"datum":"0","bandPosition":1.09},"y":{"datum":189}}}
]}
]}
]
}
